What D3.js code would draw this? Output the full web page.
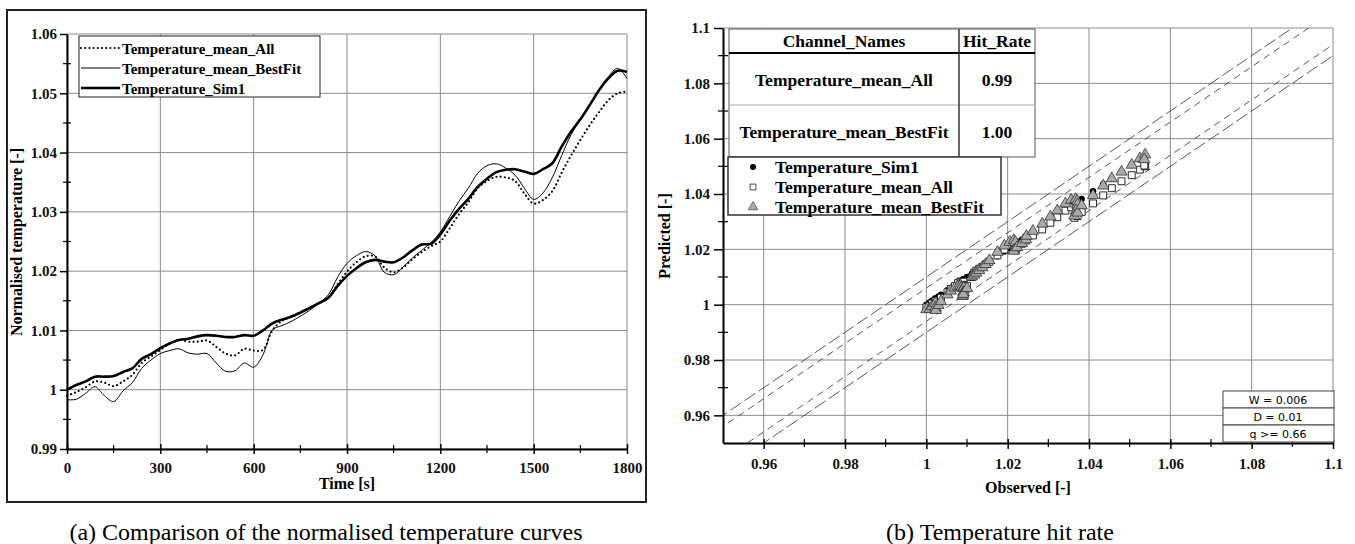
<!DOCTYPE html>
<html>
<head>
<meta charset="utf-8">
<script src="https://cdn.jsdelivr.net/npm/d3@7/dist/d3.min.js"></script>
<style>
body { margin: 0; background: #fff; }
</style>
</head>
<body>
<svg id="fig" width="1355" height="544"></svg>
<script>
// time axis (s)
const times = [0,30,60,90,120,150,180,210,240,270,300,330,360,390,420,450,480,510,540,570,
  600,630,660,690,720,750,780,810,840,870,900,930,960,990,1020,1050,1080,1110,1140,1170,
  1200,1230,1260,1290,1320,1350,1380,1410,1440,1470,1500,1530,1560,1590,1620,1650,1680,1710,1740,1770,1800];

const sim1 = [1.0000,1.0008,1.0014,1.0022,1.0022,1.0023,1.0030,1.0036,1.0052,1.0060,
  1.0070,1.0078,1.0084,1.0086,1.0090,1.0092,1.0091,1.0089,1.0089,1.0092,
  1.0091,1.0100,1.0112,1.0118,1.0123,1.0130,1.0138,1.0146,1.0155,1.0175,
  1.0192,1.0205,1.0215,1.0219,1.0216,1.0215,1.0223,1.0235,1.0245,1.0246,
  1.0262,1.0285,1.0305,1.0322,1.0342,1.0356,1.0367,1.0371,1.0372,1.0368,
  1.0364,1.0372,1.0382,1.0410,1.0435,1.0456,1.0480,1.0505,1.0525,1.0538,1.0536];

const meanAll = [0.9990,0.9996,1.0004,1.0014,1.0012,1.0006,1.0014,1.0025,1.0045,1.0056,
  1.0067,1.0078,1.0084,1.0081,1.0081,1.0083,1.0072,1.0061,1.0058,1.0069,
  1.0066,1.0067,1.0100,1.0116,1.0123,1.0130,1.0137,1.0146,1.0155,1.0178,
  1.0199,1.0215,1.0225,1.0225,1.0206,1.0198,1.0206,1.0220,1.0232,1.0242,
  1.0250,1.0272,1.0296,1.0316,1.0340,1.0352,1.0359,1.0358,1.0352,1.0331,
  1.0314,1.0320,1.0335,1.0366,1.0395,1.0421,1.0446,1.0468,1.0488,1.0500,1.0503];

const bestFit = [0.9983,0.9984,0.9994,1.0005,0.9990,0.9980,0.9998,1.0012,1.0036,1.0050,
  1.0061,1.0066,1.0069,1.0062,1.0060,1.0061,1.0045,1.0031,1.0032,1.0045,
  1.0038,1.0059,1.0101,1.0108,1.0115,1.0124,1.0134,1.0146,1.0160,1.0190,
  1.0213,1.0226,1.0233,1.0226,1.0198,1.0194,1.0207,1.0222,1.0235,1.0248,
  1.0266,1.0292,1.0318,1.0340,1.0365,1.0378,1.0381,1.0374,1.0362,1.0340,
  1.0321,1.0332,1.0358,1.0395,1.0430,1.0456,1.0480,1.0505,1.0528,1.0542,1.0525];

// left chart ticks
const xTicksA = [0,300,600,900,1200,1500,1800];
const xMinorA = [150,450,750,1050,1350,1650];
const yTicksA = [0.99,1.0,1.01,1.02,1.03,1.04,1.05,1.06];
const yLabelsA = ["0.99","1","1.01","1.02","1.03","1.04","1.05","1.06"];
const yMinorA = [0.995,1.005,1.015,1.025,1.035,1.045,1.055];

// right chart ticks
const ticksB = [0.96,0.98,1.0,1.02,1.04,1.06,1.08,1.1];
const labelsB = ["0.96","0.98","1","1.02","1.04","1.06","1.08","1.1"];
const minorB = [0.97,0.99,1.01,1.03,1.05,1.07,1.09];

// hit-rate table and band parameters
const channelNames = ["Temperature_mean_All","Temperature_mean_BestFit"];
const hitRates = ["0.99","1.00"];
const bandW = 0.006, bandD = 0.01;
const bandLabels = ["W = 0.006","D = 0.01","q >= 0.66"];

const serif = '"Liberation Serif", "Times New Roman", serif';
const svg = d3.select("#fig").attr("font-family", serif);

// ---------------- (a) time curves ----------------
const A = {left: 67, right: 627, top: 34, bottom: 449};
const xA = d3.scaleLinear().domain([0, 1800]).range([A.left, A.right]);
const yA = d3.scaleLinear().domain([0.99, 1.06]).range([A.bottom, A.top]);

svg.append("rect")
    .attr("x", 7).attr("y", 10).attr("width", 639).attr("height", 492)
    .attr("fill", "none").attr("stroke", "#222").attr("stroke-width", 2);

// grid
svg.append("g").selectAll("line").data(xTicksA).enter().append("line")
    .attr("x1", d => xA(d)).attr("x2", d => xA(d))
    .attr("y1", A.top).attr("y2", A.bottom)
    .attr("stroke", "#8a8a8a").attr("stroke-width", 1);
svg.append("g").selectAll("line").data(yTicksA).enter().append("line")
    .attr("x1", A.left).attr("x2", A.right)
    .attr("y1", d => yA(d)).attr("y2", d => yA(d))
    .attr("stroke", "#8a8a8a").attr("stroke-width", 1);

// axes
let gx = svg.append("g")
    .attr("transform", "translate(0," + A.bottom + ")")
    .call(d3.axisBottom(xA).tickValues(xTicksA).tickFormat(d3.format("d")).tickSizeInner(5).tickSizeOuter(0).tickPadding(8))
    .attr("font-family", serif).attr("font-size", 15).attr("font-weight", "bold");
let gy = svg.append("g")
    .attr("transform", "translate(" + A.left + ",0)")
    .call(d3.axisLeft(yA).tickValues(yTicksA).tickFormat((d, i) => yLabelsA[i]).tickSizeInner(7).tickSizeOuter(0).tickPadding(3))
    .attr("font-family", serif).attr("font-size", 15).attr("font-weight", "bold");
[gx, gy].forEach(g => {
    g.select(".domain").attr("stroke", "#000").attr("stroke-width", 2);
    g.selectAll(".tick line").attr("stroke", "#000").attr("stroke-width", 1.5);
    g.selectAll(".tick text").attr("fill", "#111");
});
gx.selectAll(".tick line").attr("y1", -5);

svg.append("g").selectAll("line").data(xMinorA).enter().append("line")
    .attr("x1", d => xA(d)).attr("x2", d => xA(d))
    .attr("y1", A.bottom - 4).attr("y2", A.bottom + 4)
    .attr("stroke", "#000").attr("stroke-width", 1.2);
svg.append("g").selectAll("line").data(yMinorA).enter().append("line")
    .attr("x1", A.left - 4).attr("x2", A.left + 4)
    .attr("y1", d => yA(d)).attr("y2", d => yA(d))
    .attr("stroke", "#000").attr("stroke-width", 1.2);

// curves
const lineA = d3.line()
    .x((d, i) => xA(times[i]))
    .y(d => yA(d))
    .curve(d3.curveCatmullRom);

svg.append("path").datum(meanAll).attr("d", lineA)
    .attr("fill", "none").attr("stroke", "#000").attr("stroke-width", 2.2)
    .attr("stroke-linecap", "round").attr("stroke-dasharray", "0,4.2");
svg.append("path").datum(bestFit).attr("d", lineA)
    .attr("fill", "none").attr("stroke", "#000").attr("stroke-width", 1);
svg.append("path").datum(sim1).attr("d", lineA)
    .attr("fill", "none").attr("stroke", "#000").attr("stroke-width", 2.6);

// legend (a)
let legA = svg.append("g");
legA.append("rect").attr("x", 79).attr("y", 36).attr("width", 241).attr("height", 61)
    .attr("fill", "#fff").attr("stroke", "#222").attr("stroke-width", 1);
const legAItems = [
    {name: "Temperature_mean_All", w: 2.2, dash: "0,4.2"},
    {name: "Temperature_mean_BestFit", w: 1, dash: null},
    {name: "Temperature_Sim1", w: 2.6, dash: null}
];
legAItems.forEach((it, i) => {
    let yy = 48 + i * 20;
    legA.append("line").attr("x1", 81).attr("x2", 120).attr("y1", yy).attr("y2", yy)
        .attr("stroke", "#000").attr("stroke-width", it.w)
        .attr("stroke-linecap", it.dash ? "round" : "butt")
        .attr("stroke-dasharray", it.dash);
    legA.append("text").attr("x", 122).attr("y", yy + 5.5)
        .attr("font-size", 15).attr("font-weight", "bold").text(it.name);
});

svg.append("text").attr("x", 347).attr("y", 489).attr("text-anchor", "middle")
    .attr("font-size", 16).attr("font-weight", "bold").text("Time [s]");
svg.append("text").attr("transform", "translate(22,242) rotate(-90)").attr("text-anchor", "middle")
    .attr("font-size", 16).attr("font-weight", "bold").text("Normalised temperature [-]");
svg.append("text").attr("x", 326).attr("y", 540).attr("text-anchor", "middle")
    .attr("font-size", 24).text("(a) Comparison of the normalised temperature curves");

// ---------------- (b) hit rate ----------------
const B = {left: 723, right: 1333, top: 28, bottom: 443};
const xB = d3.scaleLinear().domain([0.95, 1.1]).range([B.left, B.right]);
const yB = d3.scaleLinear().domain([0.95, 1.1]).range([B.bottom, B.top]);

svg.append("defs").append("clipPath").attr("id", "clipB")
    .append("rect").attr("x", B.left).attr("y", B.top)
    .attr("width", B.right - B.left).attr("height", B.bottom - B.top);

svg.append("g").selectAll("line").data(ticksB).enter().append("line")
    .attr("x1", d => xB(d)).attr("x2", d => xB(d))
    .attr("y1", B.top).attr("y2", B.bottom)
    .attr("stroke", "#8a8a8a").attr("stroke-width", 1);
svg.append("g").selectAll("line").data(ticksB).enter().append("line")
    .attr("x1", B.left).attr("x2", B.right)
    .attr("y1", d => yB(d)).attr("y2", d => yB(d))
    .attr("stroke", "#8a8a8a").attr("stroke-width", 1);

// tolerance bands y = x +/- W, +/- D
const bands = [
    {off: bandD, dash: "13,4"},
    {off: bandW, dash: "7,5"},
    {off: -bandW, dash: "7,5"},
    {off: -bandD, dash: "13,4"}
];
let bandG = svg.append("g").attr("clip-path", "url(#clipB)");
bands.forEach(b => {
    bandG.append("line")
        .attr("x1", xB(0.9)).attr("y1", yB(0.9 + b.off))
        .attr("x2", xB(1.15)).attr("y2", yB(1.15 + b.off))
        .attr("stroke", "#444").attr("stroke-width", 0.9)
        .attr("stroke-dasharray", b.dash);
});

// scatter: observed = Sim1, predicted = each series
let ptsG = svg.append("g").attr("clip-path", "url(#clipB)");
ptsG.selectAll(".sim").data(sim1).enter().append("circle")
    .attr("cx", d => xB(d)).attr("cy", d => yB(d)).attr("r", 3.2).attr("fill", "#000");
ptsG.selectAll(".all").data(meanAll).enter().append("path")
    .attr("d", d3.symbol(d3.symbolSquare, 48))
    .attr("transform", (d, i) => "translate(" + xB(sim1[i]) + "," + yB(d) + ")")
    .attr("fill", "#fff").attr("stroke", "#111").attr("stroke-width", 0.9);
ptsG.selectAll(".best").data(bestFit).enter().append("path")
    .attr("d", d3.symbol(d3.symbolTriangle, 55))
    .attr("transform", (d, i) => "translate(" + xB(sim1[i]) + "," + yB(d) + ")")
    .attr("fill", "#aaa").attr("stroke", "#333").attr("stroke-width", 0.8);

let gxB = svg.append("g")
    .attr("transform", "translate(0," + B.bottom + ")")
    .call(d3.axisBottom(xB).tickValues(ticksB).tickFormat((d, i) => labelsB[i]).tickSizeInner(6).tickSizeOuter(0).tickPadding(9))
    .attr("font-family", serif).attr("font-size", 15).attr("font-weight", "bold");
let gyB = svg.append("g")
    .attr("transform", "translate(" + B.left + ",0)")
    .call(d3.axisLeft(yB).tickValues(ticksB).tickFormat((d, i) => labelsB[i]).tickSizeInner(9).tickSizeOuter(0).tickPadding(4))
    .attr("font-family", serif).attr("font-size", 15).attr("font-weight", "bold");
[gxB, gyB].forEach(g => {
    g.select(".domain").attr("stroke", "#000").attr("stroke-width", 2);
    g.selectAll(".tick line").attr("stroke", "#000").attr("stroke-width", 1.5);
    g.selectAll(".tick text").attr("fill", "#111");
});
gxB.selectAll(".tick line").attr("y1", -4);
svg.append("g").selectAll("line").data(minorB).enter().append("line")
    .attr("x1", d => xB(d)).attr("x2", d => xB(d))
    .attr("y1", B.bottom - 4).attr("y2", B.bottom + 4)
    .attr("stroke", "#000").attr("stroke-width", 1.2);
svg.append("g").selectAll("line").data(minorB).enter().append("line")
    .attr("x1", B.left - 5).attr("x2", B.left + 5)
    .attr("y1", d => yB(d)).attr("y2", d => yB(d))
    .attr("stroke", "#000").attr("stroke-width", 1.2);

// hit rate table
let tab = svg.append("g");
tab.append("rect").attr("x", 729).attr("y", 29).attr("width", 306).attr("height", 128)
    .attr("fill", "#fff").attr("stroke", "#555").attr("stroke-width", 1);
tab.append("line").attr("x1", 729).attr("x2", 1035).attr("y1", 53).attr("y2", 53)
    .attr("stroke", "#000").attr("stroke-width", 2);
tab.append("line").attr("x1", 729).attr("x2", 1035).attr("y1", 105).attr("y2", 105)
    .attr("stroke", "#aaa").attr("stroke-width", 1);
tab.append("line").attr("x1", 959).attr("x2", 959).attr("y1", 29).attr("y2", 157)
    .attr("stroke", "#333").attr("stroke-width", 1.5);
tab.append("text").attr("x", 844).attr("y", 47).attr("text-anchor", "middle")
    .attr("font-size", 17.5).attr("font-weight", "bold").text("Channel_Names");
tab.append("text").attr("x", 997).attr("y", 47).attr("text-anchor", "middle")
    .attr("font-size", 17.5).attr("font-weight", "bold").text("Hit_Rate");
channelNames.forEach((n, i) => {
    let yy = 86 + i * 52;
    tab.append("text").attr("x", 844).attr("y", yy).attr("text-anchor", "middle")
        .attr("font-size", 17.5).attr("font-weight", "bold").text(n);
    tab.append("text").attr("x", 997).attr("y", yy).attr("text-anchor", "middle")
        .attr("font-size", 17.5).attr("font-weight", "bold").text(hitRates[i]);
});

// legend (b)
let legB = svg.append("g");
legB.append("rect").attr("x", 728).attr("y", 157).attr("width", 273).attr("height", 58)
    .attr("fill", "#fff").attr("stroke", "#333").attr("stroke-width", 1.5);
const legBNames = ["Temperature_Sim1", "Temperature_mean_All", "Temperature_mean_BestFit"];
legBNames.forEach((n, i) => {
    let yy = 167 + i * 20;
    if (i === 0) {
        legB.append("circle").attr("cx", 753).attr("cy", yy).attr("r", 3).attr("fill", "#000");
    } else if (i === 1) {
        legB.append("path").attr("d", d3.symbol(d3.symbolSquare, 34))
            .attr("transform", "translate(753," + yy + ")")
            .attr("fill", "#fff").attr("stroke", "#333").attr("stroke-width", 0.9);
    } else {
        legB.append("path").attr("d", d3.symbol(d3.symbolTriangle, 40))
            .attr("transform", "translate(753," + yy + ")")
            .attr("fill", "#aaa").attr("stroke", "#555").attr("stroke-width", 0.8);
    }
    legB.append("text").attr("x", 775).attr("y", yy + 6)
        .attr("font-size", 17.5).attr("font-weight", "bold").text(n);
});

// parameter box
let pbox = svg.append("g");
bandLabels.forEach((t, i) => {
    let yy = 391 + i * 17;
    pbox.append("rect").attr("x", 1223).attr("y", yy).attr("width", 111).attr("height", 17)
        .attr("fill", "#fff").attr("stroke", "#444").attr("stroke-width", 1);
    pbox.append("text").attr("x", 1278).attr("y", yy + 13).attr("text-anchor", "middle")
        .attr("font-family", '"DejaVu Sans", sans-serif').attr("font-size", 11).text(t);
});

svg.append("text").attr("x", 1028).attr("y", 493).attr("text-anchor", "middle")
    .attr("font-size", 16).attr("font-weight", "bold").text("Observed [-]");
svg.append("text").attr("transform", "translate(670,236) rotate(-90)").attr("text-anchor", "middle")
    .attr("font-size", 16).attr("font-weight", "bold").text("Predicted [-]");
svg.append("text").attr("x", 1000).attr("y", 540).attr("text-anchor", "middle")
    .attr("font-size", 24).text("(b) Temperature hit rate");
</script>
</body>
</html>
